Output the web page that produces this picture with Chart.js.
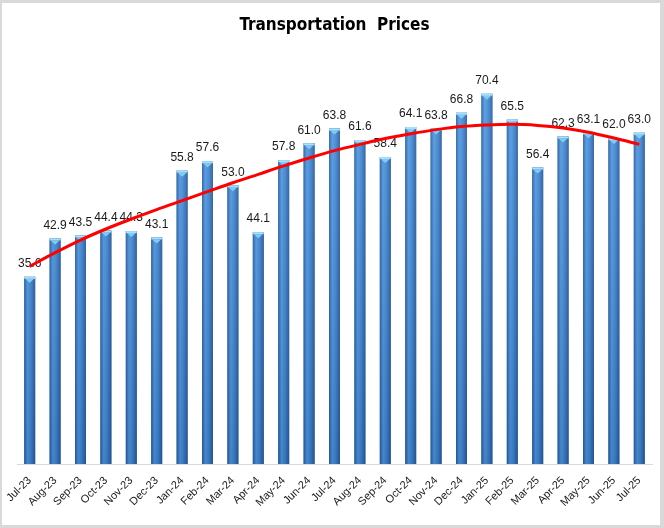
<!DOCTYPE html>
<html lang="en">
<head>
<meta charset="UTF-8">
<title>Transportation Prices</title>
<script src="https://cdn.jsdelivr.net/npm/chart.js@4.4.1/dist/chart.umd.min.js"></script>
<style>
  html, body { margin: 0; padding: 0; background: #fff; }
  .frame {
    width: 658px; height: 522px;
    border-style: solid; border-color: #d9d9d9;
    border-width: 3px 4px 3px 2px;
  }
  canvas { display: block; }
</style>
</head>
<body>
<div class="frame"><canvas id="chart" width="658" height="522"></canvas></div>
<script>
const months = ['Jul-23', 'Aug-23', 'Sep-23', 'Oct-23', 'Nov-23', 'Dec-23', 'Jan-24', 'Feb-24',
  'Mar-24', 'Apr-24', 'May-24', 'Jun-24', 'Jul-24', 'Aug-24', 'Sep-24', 'Oct-24', 'Nov-24',
  'Dec-24', 'Jan-25', 'Feb-25', 'Mar-25', 'Apr-25', 'May-25', 'Jun-25', 'Jul-25'];
const prices = [35.6, 42.9, 43.5, 44.4, 44.3, 43.1, 55.8, 57.6, 53.0, 44.1, 57.8, 61.0, 63.8,
  61.6, 58.4, 64.1, 63.8, 66.8, 70.4, 65.5, 56.4, 62.3, 63.1, 62.0, 63.0];
// red trend line at each month
const trend = [37.6, 40.2, 42.6, 44.7, 46.6, 48.4, 50.1, 51.8, 53.5, 55.1, 56.7, 58.2, 59.6,
  60.8, 61.9, 62.8, 63.6, 64.2, 64.5, 64.6, 64.4, 63.9, 63.1, 62.0, 60.8];

// gradient bars, light cap and value labels
const barStyle = {
  id: 'barStyle',
  afterDatasetDraw(chart, args) {
    if (args.index !== 0) return;
    const ctx = chart.ctx;
    const area = chart.chartArea;
    const shade = ctx.createLinearGradient(0, area.top, 0, area.bottom);
    shade.addColorStop(0, 'rgba(255,255,255,0.10)');
    shade.addColorStop(1, 'rgba(0,10,40,0.14)');
    ctx.save();
    args.meta.data.forEach((bar, i) => {
      const p = bar.getProps(['x', 'y', 'base', 'width'], true);
      const l = p.x - p.width / 2;
      const g = ctx.createLinearGradient(l, 0, l + p.width, 0);
      g.addColorStop(0, '#2a60a2');
      g.addColorStop(0.3, '#4f9ae6');
      g.addColorStop(0.6, '#4189d6');
      g.addColorStop(1, '#2a5d9e');
      ctx.fillStyle = g;
      ctx.fillRect(l, p.y, p.width, p.base - p.y);
      ctx.fillStyle = shade;
      ctx.fillRect(l, p.y, p.width, p.base - p.y);
      // top cap
      ctx.fillStyle = '#a6e0fb';
      ctx.fillRect(l, p.y, p.width, 2);
      ctx.beginPath();
      ctx.moveTo(l + 1, p.y + 2);
      ctx.lineTo(l + p.width - 1, p.y + 2);
      ctx.lineTo(p.x, p.y + 6);
      ctx.closePath();
      ctx.fillStyle = '#80cbf4';
      ctx.fill();
      // label
      ctx.fillStyle = '#1a1a1a';
      ctx.font = '12px "Liberation Sans", Arial, sans-serif';
      ctx.textAlign = 'center';
      ctx.textBaseline = 'middle';
      ctx.fillText(prices[i].toFixed(1), p.x, p.y - 13);
    });
    ctx.restore();
  }
};

new Chart(document.getElementById('chart'), {
  type: 'bar',
  data: {
    labels: months,
    datasets: [{
      type: 'bar',
      data: prices,
      backgroundColor: '#3d80c8',
      barPercentage: 0.9,
      categoryPercentage: 0.48,
      order: 1
    }, {
      type: 'line',
      data: trend,
      borderColor: '#ff0000',
      borderWidth: 3,
      pointRadius: 0,
      cubicInterpolationMode: 'monotone',
      order: 0
    }]
  },
  plugins: [barStyle],
  options: {
    responsive: false,
    animation: false,
    layout: { padding: { left: 15, right: 8, top: 0, bottom: 0 } },
    plugins: {
      legend: { display: false },
      tooltip: { enabled: false },
      title: {
        display: true,
        text: 'Transportation  Prices',
        color: '#000',
        font: { family: '"Liberation Sans Narrow", "DejaVu Sans Condensed", sans-serif', size: 17, weight: 'bold' },
        padding: { top: 12, bottom: 8 }
      }
    },
    scales: {
      y: { display: false, min: 0, max: 80 },
      x: {
        grid: { display: false },
        border: { color: '#d9d9d9', width: 1 },
        ticks: {
          minRotation: 45, maxRotation: 45, color: '#1a1a1a', padding: 2,
          font: { family: '"Liberation Sans", Arial, sans-serif', size: 11 }
        },
        afterFit(scale) { scale.height = 61; }
      }
    }
  }
});
</script>
</body>
</html>
